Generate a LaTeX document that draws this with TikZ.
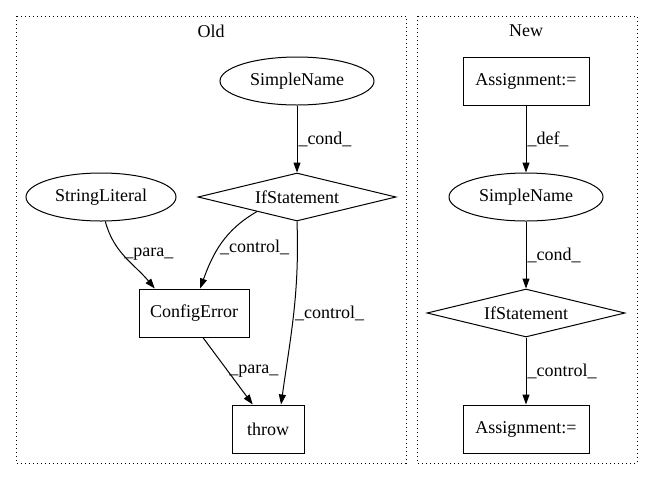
\documentclass[tikz,border=0pt]{standalone}
\usepackage{fontspec}
\setmainfont{Liberation Serif}
\usetikzlibrary{shapes.geometric,arrows.meta}

\tikzset{
  every node/.style={font=\fontsize{18}{20}\selectfont},
  elip/.style={draw,ellipse,line width=1pt,minimum width=154pt,minimum height=48pt,inner sep=0},
  caja/.style={draw,rectangle,line width=1pt,minimum height=48pt,inner sep=0},
  rombo/.style={draw,diamond,aspect=4,line width=1pt,minimum width=198pt,minimum height=48pt,inner sep=0},
  arista/.style={line width=1pt,-{Triangle[length=10pt,width=7pt]}},
  etiq/.style={anchor=west,inner sep=1pt},
  grupo/.style={line width=1pt,dash pattern=on 1pt off 3pt}
}

\begin{document}
\begin{tikzpicture}[x=1pt,y=1pt]

	\useasboundingbox (0,0) rectangle (652,-480);

	% Grupos
	\draw [grupo] (16,-16) rectangle (406,-463);
	\node (tOld) at (211,-31) {Old};
	\draw [grupo] (417,-16) rectangle (637,-463);
	\node (tNew) at (526,-31) {New};

	% Old
	\node [elip] (sn1) at (297,-81) {SimpleName};
	\node [elip,minimum width=150pt] (sl1) at (101,-197) {StringLiteral};
	\node [rombo] (if1) at (297,-197) {IfStatement};
	\node [caja,minimum width=110pt] (ce1) at (194,-313) {ConfigError};
	\node [caja,minimum width=72pt] (th1) at (268,-429) {throw};

	\draw [arista] (sn1) -- node [etiq] {\_cond\_} (if1);
	\draw [arista] (sl1.-80) to [out=-75,in=130] node [etiq,pos=0.45] {\_para\_} (ce1.148);
	\draw [arista] (if1.200) to [out=210,in=70] node [etiq,pos=0.55] {\_control\_} (ce1.76);
	\draw [arista] (if1.south) to [out=-88,in=82] node [etiq,pos=0.5] {\_control\_} (th1.62);
	\draw [arista] (ce1.-70) -- node [etiq,pos=0.5] {\_para\_} (th1.122);

	% New
	\node [caja,minimum width=126pt] (as1) at (526,-81) {Assignment:=};
	\node [elip] (sn2) at (526,-197) {SimpleName};
	\node [rombo] (if2) at (526,-313) {IfStatement};
	\node [caja,minimum width=126pt] (as2) at (526,-429) {Assignment:=};

	\draw [arista] (as1) -- node [etiq] {\_def\_} (sn2);
	\draw [arista] (sn2) -- node [etiq] {\_cond\_} (if2);
	\draw [arista] (if2) -- node [etiq] {\_control\_} (as2);
\end{tikzpicture}
\end{document}
